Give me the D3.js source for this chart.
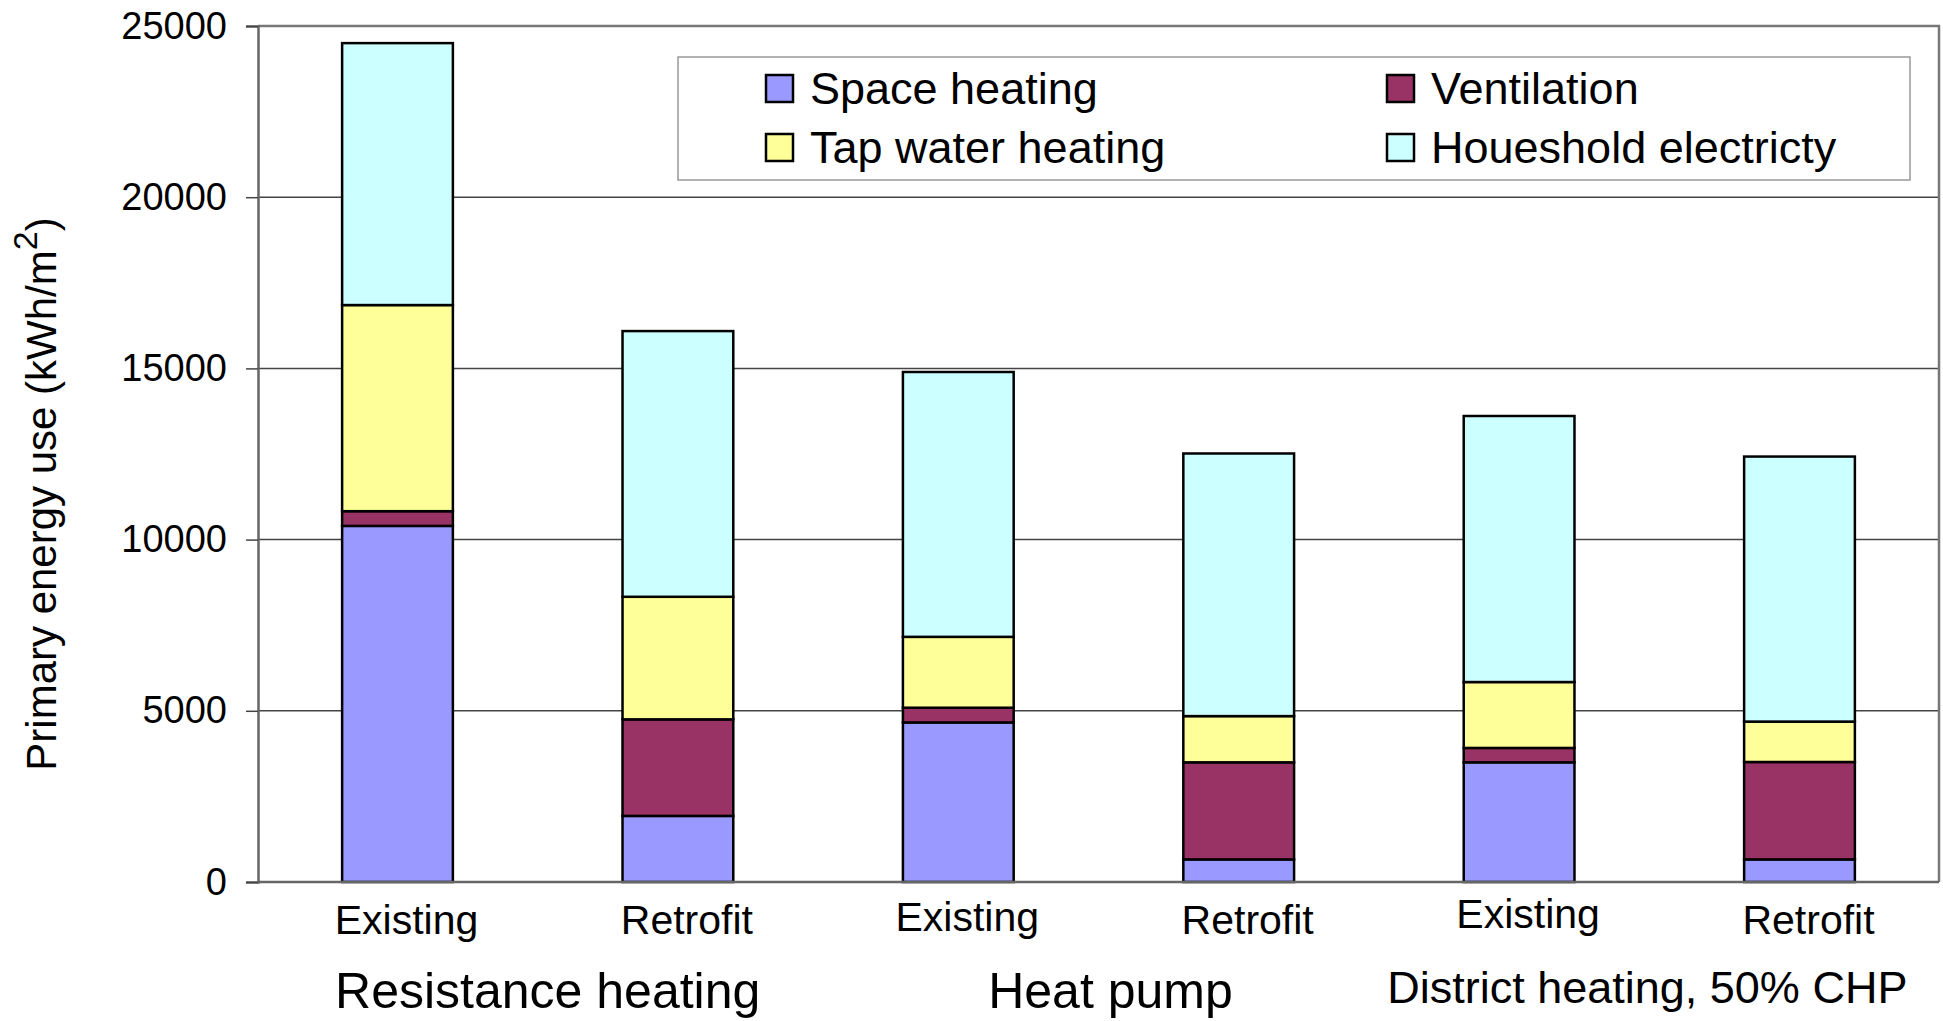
<!DOCTYPE html>
<html>
<head>
<meta charset="utf-8">
<script src="https://cdn.jsdelivr.net/npm/d3@7"></script>
<style>
  body { margin: 0; background: #fff; }
  text { font-family: "Liberation Sans", Arial, sans-serif; fill: #000; }
</style>
</head>
<body>
<div id="chart"></div>
<script>
// data
var bars = ["RH Existing", "RH Retrofit", "HP Existing", "HP Retrofit", "DH Existing", "DH Retrofit"];
var barLabels = ["Existing", "Retrofit", "Existing", "Retrofit", "Existing", "Retrofit"];
var groups = ["Resistance heating", "Heat pump", "District heating, 50% CHP"];
var seriesNames = ["Space heating", "Ventilation", "Tap water heating", "Houeshold electricty"];
var spaceHeating = [10400, 1930, 4660, 660, 3495, 660];
var ventilation = [430, 2820, 430, 2835, 420, 2845];
var tapWater = [6020, 3580, 2070, 1350, 1925, 1180];
var household = [7650, 7760, 7735, 7670, 7770, 7740];
var yTicks = [0, 5000, 10000, 15000, 20000, 25000];

var colors = ["#9999ff", "#993366", "#ffff99", "#ccffff"];

var width = 1943, height = 1021;
var margin = {left: 258, right: 4, top: 26, bottom: 139};

var svg = d3.select("#chart").append("svg")
    .attr("width", width)
    .attr("height", height);

var x = d3.scaleBand()
    .domain(bars)
    .range([margin.left, width - margin.right])
    .paddingInner(0.605)
    .paddingOuter(0.3);

var y = d3.scaleLinear()
    .domain([0, 25000])
    .range([height - margin.bottom, margin.top]);

var table = bars.map(function(b, i) {
    return {bar: b, s0: spaceHeating[i], s1: ventilation[i], s2: tapWater[i], s3: household[i]};
});
var stack = d3.stack().keys(["s0", "s1", "s2", "s3"]);
var layers = stack(table);

// gridlines
svg.append("g")
    .selectAll("line")
    .data(yTicks.slice(1, -1))
    .enter()
    .append("line")
    .attr("x1", margin.left)
    .attr("x2", width - margin.right)
    .attr("y1", function(d) { return y(d); })
    .attr("y2", function(d) { return y(d); })
    .style("stroke", "#444")
    .style("stroke-width", 1.5);

// plot frame (top and right)
svg.append("path")
    .attr("d", "M" + margin.left + "," + y(25000) + "H" + (width - margin.right) + "V" + y(0))
    .style("fill", "none")
    .style("stroke", "#777")
    .style("stroke-width", 2.5);

// bars
svg.append("g")
    .selectAll("g")
    .data(layers)
    .enter()
    .append("g")
    .style("fill", function(d, i) { return colors[i]; })
    .selectAll("rect")
    .data(function(d) { return d; })
    .enter()
    .append("rect")
    .attr("x", function(d) { return x(d.data.bar); })
    .attr("width", x.bandwidth())
    .attr("y", function(d) { return y(d[1]); })
    .attr("height", function(d) { return y(d[0]) - y(d[1]); })
    .style("stroke", "#000")
    .style("stroke-width", 2.5);

// y axis
var yAxis = svg.append("g")
    .attr("transform", "translate(" + margin.left + ",0)")
    .call(d3.axisLeft(y).tickValues(yTicks).tickSize(12).tickPadding(19).tickFormat(d3.format("d")));
yAxis.select(".domain").style("stroke", "#666").style("stroke-width", 2.5);
yAxis.selectAll(".tick line").style("stroke", "#444").style("stroke-width", 1.5);
yAxis.selectAll(".tick text")
    .style("font-size", "38px")
    .style("font-family", "'Liberation Sans', Arial, sans-serif")
    .attr("fill", "#000");

// x axis line
svg.append("line")
    .attr("x1", margin.left)
    .attr("x2", width - margin.right)
    .attr("y1", y(0))
    .attr("y2", y(0))
    .style("stroke", "#666")
    .style("stroke-width", 2.5);

// bar labels
svg.append("g")
    .selectAll("text")
    .data(bars)
    .enter()
    .append("text")
    .attr("x", function(d) { return x(d) + x.bandwidth() / 2 + 9; })
    .attr("y", function(d, i) { return [934, 934, 931, 934, 928, 934][i]; })
    .attr("text-anchor", "middle")
    .style("font-size", "41px")
    .text(function(d, i) { return barLabels[i]; });

// group labels
svg.append("g")
    .selectAll("text")
    .data(groups)
    .enter()
    .append("text")
    .attr("x", function(d, i) {
        var a = x(bars[i * 2]), b = x(bars[i * 2 + 1]);
        return (a + b + x.bandwidth()) / 2 + [10, 12, -12][i];
    })
    .attr("y", function(d, i) { return i == 2 ? 1003 : 1008; })
    .attr("text-anchor", "middle")
    .style("font-size", function(d, i) { return i == 2 ? "45px" : "50px"; })
    .text(function(d) { return d; });

// y axis title
var yTitle = svg.append("text")
    .attr("transform", "translate(56,494) rotate(-90)")
    .attr("text-anchor", "middle")
    .style("font-size", "42px");
yTitle.append("tspan").text("Primary energy use (kWh/m");
yTitle.append("tspan").text("2").style("font-size", "34px").attr("dy", "-0.55em");
yTitle.append("tspan").text(")").attr("dy", "0.45em");

// legend
var legend = svg.append("g");
legend.append("rect")
    .attr("x", 678)
    .attr("y", 57)
    .attr("width", 1232)
    .attr("height", 123)
    .style("fill", "#fff")
    .style("stroke", "#999")
    .style("stroke-width", 1.5);

var legendPos = [[766, 88], [1387, 88], [766, 147], [1387, 147]];
var legendOrder = [0, 1, 2, 3];
var item = legend.selectAll(".item")
    .data(legendOrder)
    .enter()
    .append("g")
    .attr("class", "item")
    .attr("transform", function(d, i) { return "translate(" + legendPos[i][0] + "," + legendPos[i][1] + ")"; });

item.append("rect")
    .attr("x", 0)
    .attr("y", -13)
    .attr("width", 27)
    .attr("height", 27)
    .style("fill", function(d) { return colors[d]; })
    .style("stroke", "#000")
    .style("stroke-width", 2.5);

item.append("text")
    .attr("x", 44)
    .attr("y", 16)
    .style("font-size", "45px")
    .text(function(d) { return seriesNames[d]; });
</script>
</body>
</html>
